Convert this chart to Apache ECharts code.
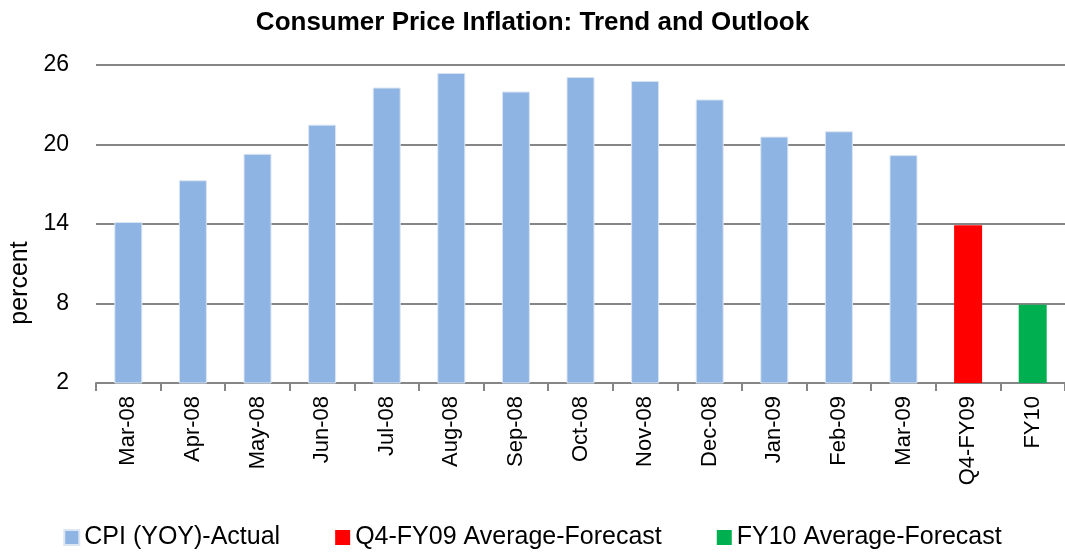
<!DOCTYPE html>
<html>
<head>
<meta charset="utf-8">
<script src="https://cdn.jsdelivr.net/npm/echarts@6/dist/echarts.min.js"></script>
<style>
  html, body { margin: 0; padding: 0; background: #fff; }
  #chart { width: 1065px; height: 556px; }
</style>
</head>
<body>
<div id="chart"></div>
<script>
// data
const months = ['Mar-08', 'Apr-08', 'May-08', 'Jun-08', 'Jul-08', 'Aug-08', 'Sep-08',
  'Oct-08', 'Nov-08', 'Dec-08', 'Jan-09', 'Feb-09', 'Mar-09', 'Q4-FY09', 'FY10'];
const actual = [14.15, 17.3, 19.3, 21.5, 24.3, 25.4, 24.0, 25.1, 24.8, 23.4, 20.6, 21.0, 19.2, '-', '-'];
const q4Forecast = ['-', '-', '-', '-', '-', '-', '-', '-', '-', '-', '-', '-', '-', 13.9, '-'];
const fy10Forecast = ['-', '-', '-', '-', '-', '-', '-', '-', '-', '-', '-', '-', '-', '-', 7.9];
const yTicks = { min: 2, max: 26, step: 6 };

const font = '"Liberation Sans", sans-serif';

let chart = echarts.init(document.getElementById('chart'), null, { renderer: 'canvas' });

let option = {
  animation: false,
  title: {
    text: 'Consumer Price Inflation: Trend and Outlook',
    left: 'center',
    top: 5,
    textStyle: { fontFamily: font, fontSize: 26, fontWeight: 'bold', color: '#000' }
  },
  legend: {
    bottom: 1,
    left: 'center',
    itemWidth: 15,
    itemHeight: 15,
    itemGap: 55,
    icon: 'rect',
    textStyle: { fontFamily: font, fontSize: 25, color: '#000' },
    data: ['CPI (YOY)-Actual', 'Q4-FY09 Average-Forecast', 'FY10 Average-Forecast']
  },
  grid: { left: 96, right: 0, top: 65, bottom: 173 },
  xAxis: {
    type: 'category',
    data: months,
    axisLine: { lineStyle: { color: '#868686', width: 2 } },
    axisTick: { show: true, length: 8, lineStyle: { color: '#868686', width: 2 } },
    axisLabel: { rotate: 90, margin: 13, fontFamily: font, fontSize: 22, color: '#000' }
  },
  yAxis: {
    type: 'value',
    min: yTicks.min,
    max: yTicks.max,
    interval: yTicks.step,
    axisLine: { show: false },
    axisTick: { show: false },
    splitLine: { lineStyle: { color: '#868686', width: 2 } },
    axisLabel: { margin: 27, fontFamily: font, fontSize: 23, color: '#000' }
  },
  graphic: [{
    type: 'text',
    x: 8,
    y: 283,
    rotation: Math.PI / 2,
    style: {
      text: 'percent',
      fontFamily: font,
      fontSize: 25,
      fill: '#000',
      align: 'center',
      verticalAlign: 'top'
    }
  }],
  series: [
    {
      name: 'CPI (YOY)-Actual', type: 'bar', stack: 'all', barWidth: 28,
      itemStyle: { color: '#8EB4E3', borderColor: '#DCE6F2', borderWidth: 1 },
      data: actual
    },
    {
      name: 'Q4-FY09 Average-Forecast', type: 'bar', stack: 'all', barWidth: 28,
      itemStyle: { color: '#FF0000' },
      data: q4Forecast
    },
    {
      name: 'FY10 Average-Forecast', type: 'bar', stack: 'all', barWidth: 28,
      itemStyle: { color: '#00B050' },
      data: fy10Forecast
    }
  ]
};

chart.setOption(option);
</script>
</body>
</html>
